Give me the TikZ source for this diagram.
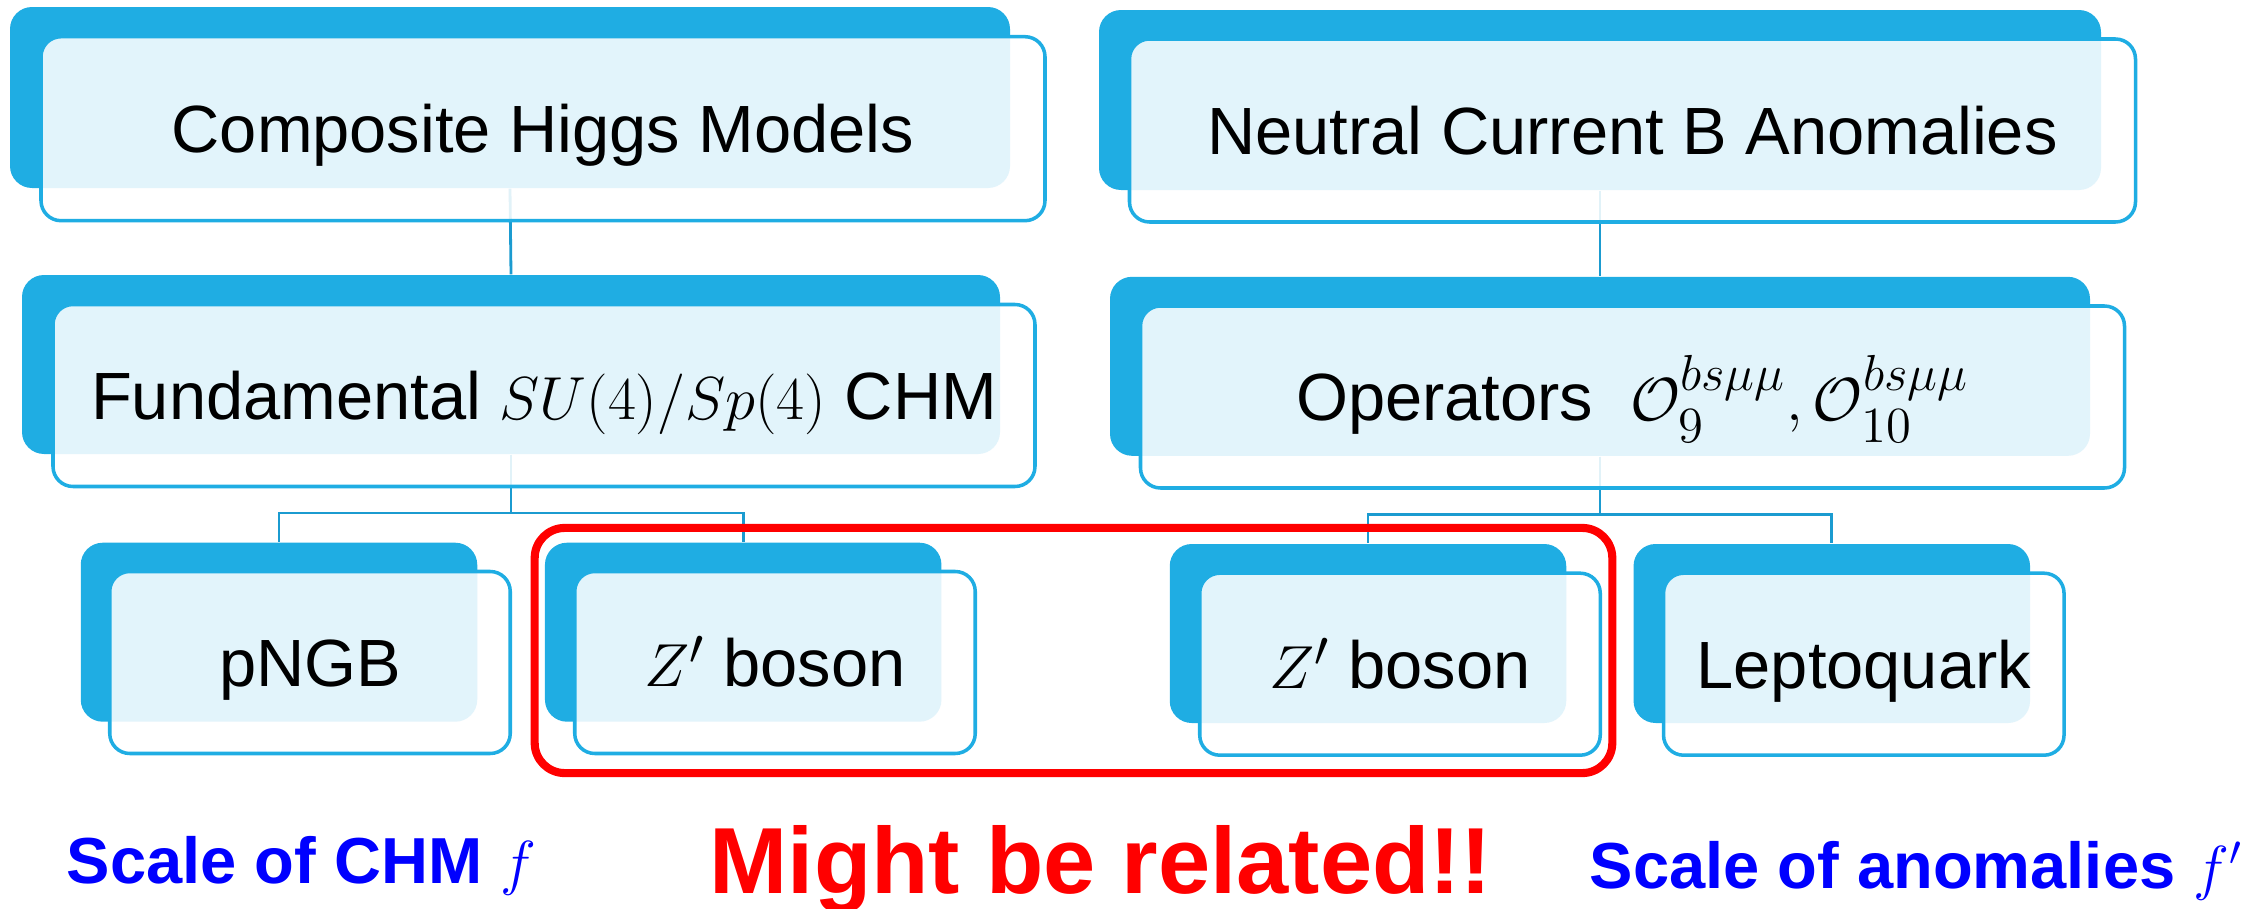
\documentclass[tikz,border=0pt]{standalone}
\usepackage{fontspec}
\setmainfont{Liberation Sans}
\usepackage{amsmath}
\definecolor{cblue}{RGB}{31,173,227}
\definecolor{clink}{RGB}{27,155,208}
\definecolor{pureblue}{RGB}{0,0,255}
\definecolor{purered}{RGB}{255,0,0}
\pgfdeclarelayer{bg}
\pgfsetlayers{bg,main}
\tikzset{
  darkbox/.style={fill=cblue, draw=none, rounded corners=0.22cm, inner sep=0pt},
  frontbox/.style={fill=white, fill opacity=0.87, text opacity=1, draw=cblue, draw opacity=1,
    line width=1pt, rounded corners=0.2cm, inner sep=0pt, text height=13.6pt, text depth=0pt,
    font=\fontsize{19}{23}\selectfont},
  conn/.style={draw=clink, line width=0.8pt},
  redbox/.style={draw=purered, line width=2.3pt, rounded corners=0.3cm, inner sep=0pt},
  scalelbl/.style={text=pureblue, inner sep=0pt, anchor=base west, font=\bfseries\fontsize{18.5}{22}\selectfont},
  relatedlbl/.style={text=purered, inner sep=0pt, anchor=base, font=\bfseries\fontsize{26.7}{32}\selectfont}
}
\newcommand\boxpair[8]{%
  \node[darkbox, minimum width=#4*0.01cm, minimum height=#5*0.01cm] (d#1) at (#2,#3) {};
  \node[frontbox, minimum width=#4*0.01cm+0.04cm, minimum height=#5*0.01cm+0.03cm] (f#1) at (#6,#7) {#8};
}
\begin{document}
\begin{tikzpicture}[x=0.01cm, y=-0.01cm]
\useasboundingbox (0,0) rectangle (2253,909);

\boxpair{1}{510}{97.5}{1000}{181}{543}{128.7}{Composite Higgs Models}
\boxpair{2}{1600}{100}{1002}{180}{1632.5}{130.5}{Neutral Current B Anomalies}
\boxpair{3}{511}{364.5}{978}{179}{544}{395.5}{Fundamental $SU(4)/Sp(4)$ CHM}
\boxpair{4}{1600}{366.3}{980}{179}{1632.5}{397}{Operators \ $\mathcal{O}_9^{bs\mu\mu}, \mathcal{O}_{10}^{bs\mu\mu}$}
\boxpair{5}{279}{632.2}{396.5}{179}{310}{662.5}{pNGB}
\boxpair{6}{743.2}{632.2}{396.5}{179}{775}{662.5}{$Z'$ boson}
\boxpair{7}{1368}{633.5}{396.5}{179}{1400}{664.2}{$Z'$ boson}
\boxpair{8}{1831.8}{633.5}{396.5}{179}{1863.8}{664.2}{Leptoquark}

\begin{pgfonlayer}{bg}
  \draw[conn] (d1.south) -- (d3.north);
  \draw[conn] (d2.south) -- (d4.north);
  \draw[conn] (d3.south) |- ([yshift=0.29cm]d5.north) -- (d5.north);
  \draw[conn] (d3.south) |- ([yshift=0.29cm]d6.north) -- (d6.north);
  \draw[conn] (d4.south) |- ([yshift=0.29cm]d7.north) -- (d7.north);
  \draw[conn] (d4.south) |- ([yshift=0.29cm]d8.north) -- (d8.north);
\end{pgfonlayer}

\node[redbox, minimum width=10.77cm, minimum height=2.45cm] (rel) at (1073.5,650.5) {};

\node[scalelbl] (s1) at (66,883) {Scale of CHM $f$};
\node[relatedlbl] (mb) at (1101,893) {Might be related!!};
\node[scalelbl] (s2) at (1589,888) {Scale of anomalies $f'$};
\end{tikzpicture}
\end{document}
